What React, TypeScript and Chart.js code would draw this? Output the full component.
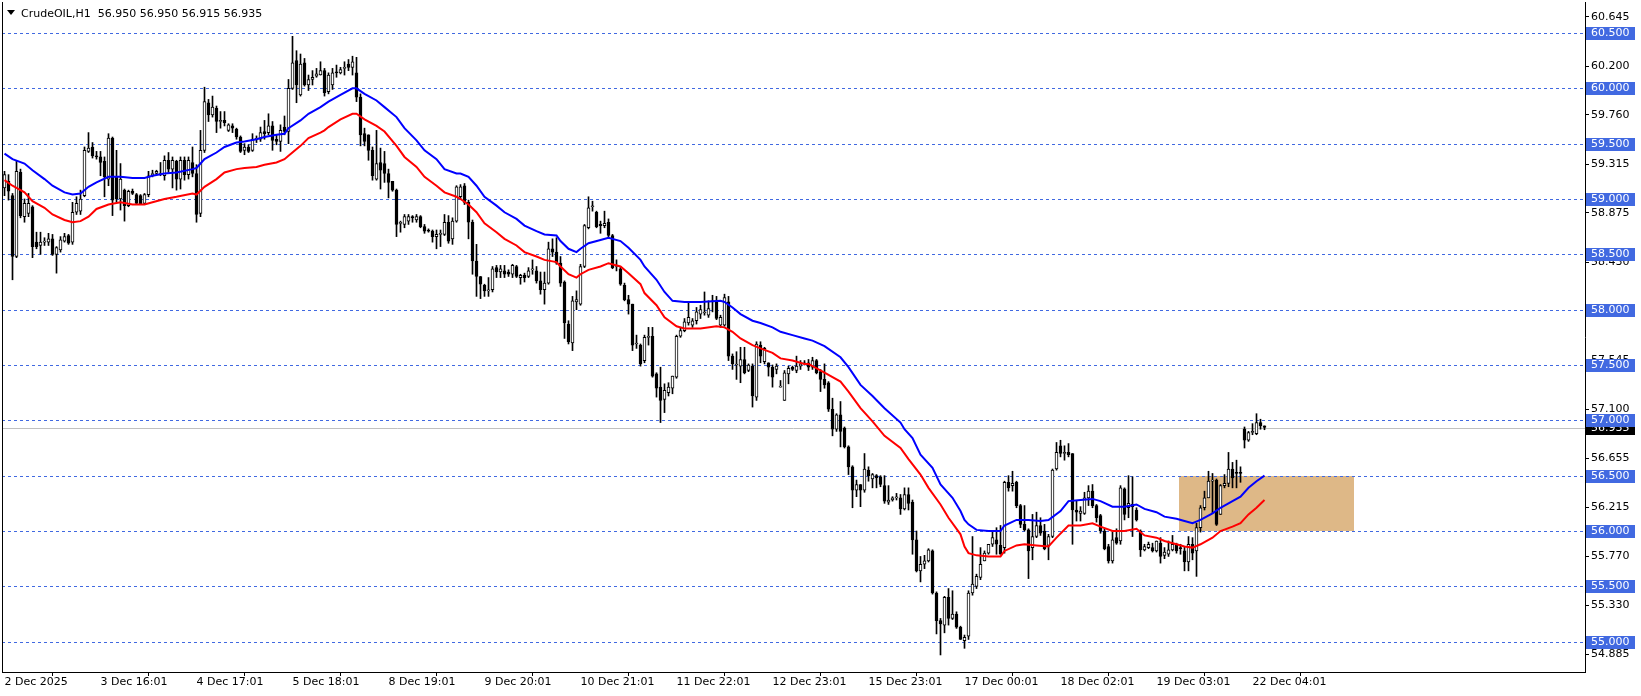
import React, { useEffect, useRef } from "react";
import { Chart, registerables } from "chart.js";
Chart.register(...registerables);

const openP = [
59.10,59.16,59.03,58.48,59.24,58.84,58.87,58.93,58.61,58.58,
58.61,58.61,58.64,58.50,58.54,58.62,58.67,58.61,58.88,58.89,
59.03,59.43,59.47,59.39,59.38,59.34,59.18,59.55,59.20,59.00,
59.08,58.94,59.07,59.04,59.03,58.96,59.04,59.22,59.23,59.22,
59.21,59.35,59.27,59.34,59.18,59.35,59.22,59.33,59.23,58.87,
59.44,59.87,59.76,59.82,59.70,59.71,59.62,59.66,59.63,59.56,
59.44,59.47,59.44,59.54,59.54,59.61,59.60,59.66,59.54,59.52,
59.65,59.61,60.00,60.25,59.94,60.23,60.03,60.08,60.11,60.12,
60.16,59.97,60.03,60.15,60.14,60.18,60.22,60.19,60.14,59.92,
59.59,59.58,59.44,59.18,59.33,59.32,59.23,59.16,59.08,58.78,
58.77,58.80,58.84,58.81,58.84,58.75,58.72,58.71,58.66,58.68,
58.68,58.79,58.64,58.80,59.02,59.12,58.97,58.79,58.44,58.30,
58.22,58.17,58.18,58.38,58.34,58.35,58.34,58.32,58.39,58.29,
58.31,58.30,58.36,58.35,58.26,58.18,58.24,58.55,58.52,58.42,
58.25,57.87,57.70,58.07,58.05,58.39,58.74,58.93,58.88,58.77,
58.76,58.79,58.67,58.39,58.37,58.22,58.09,58.05,57.69,57.68,
57.54,57.75,57.76,57.42,57.30,57.19,57.25,57.29,57.39,57.76,
57.81,57.88,57.86,57.90,57.96,57.97,57.95,58.08,58.07,57.86,
57.86,58.07,57.58,57.50,57.49,57.55,57.45,57.49,57.21,57.68,
57.53,57.52,57.48,57.46,57.30,57.18,57.42,57.48,57.45,57.49,
57.52,57.52,57.48,57.54,57.44,57.37,57.34,57.10,56.92,57.05,
56.93,56.76,56.58,56.37,56.42,56.37,56.55,56.47,56.50,56.49,
56.41,56.26,56.28,56.30,56.30,56.20,56.33,56.26,55.92,55.64,
55.70,55.73,55.82,55.44,55.19,55.15,55.40,55.21,55.25,55.13,
55.01,55.05,55.44,55.50,55.58,55.73,55.80,55.88,55.92,55.87,
55.85,56.44,56.41,56.44,56.23,56.06,56.01,55.85,55.95,56.05,
56.00,55.87,55.95,56.56,56.77,56.70,56.71,56.70,56.19,56.16,
56.16,56.30,56.36,56.23,56.14,56.00,55.86,55.73,55.94,55.91,
56.38,56.21,56.24,56.19,56.00,55.83,55.85,55.85,55.82,55.89,
55.78,55.79,55.83,55.88,55.85,55.82,55.72,55.88,55.82,56.03,
56.21,56.30,56.45,56.46,56.15,56.41,56.43,56.56,56.53,56.53,
56.92,56.82,56.89,56.88,56.98,56.950
];
const highP = [
59.25,59.22,59.05,59.34,59.27,59.00,59.05,58.94,58.70,58.70,
58.65,58.69,58.68,58.57,58.66,58.69,58.68,58.97,59.02,59.08,
59.47,59.60,59.51,59.43,59.43,59.38,59.59,59.56,59.44,59.32,
59.09,59.08,59.09,59.05,59.04,59.05,59.25,59.26,59.26,59.33,
59.39,59.42,59.38,59.35,59.38,59.38,59.38,59.47,59.31,59.62,
60.01,59.90,59.93,59.84,59.79,59.79,59.68,59.68,59.64,59.57,
59.50,59.49,59.59,59.57,59.65,59.71,59.77,59.70,59.58,59.67,
59.75,60.08,60.47,60.34,60.31,60.27,60.12,60.16,60.18,60.24,
60.18,60.14,60.18,60.21,60.19,60.24,60.26,60.29,60.28,59.95,
59.64,59.58,59.47,59.62,59.46,59.43,59.27,59.16,59.09,58.80,
58.86,58.86,58.85,58.86,58.85,58.77,58.73,58.72,58.72,58.72,
58.86,58.85,58.83,59.12,59.13,59.14,58.99,58.81,58.59,58.30,
58.23,58.29,58.39,58.40,58.40,58.40,58.36,58.41,58.40,58.32,
58.33,58.38,58.45,58.39,58.34,58.34,58.61,58.64,58.65,58.48,
58.26,57.90,58.12,58.17,58.41,58.77,59.02,58.98,58.89,58.80,
58.89,58.82,58.68,58.45,58.39,58.24,58.13,58.05,57.77,57.69,
57.77,57.84,57.84,57.43,57.48,57.33,57.34,57.40,57.77,57.84,
57.92,58.07,57.92,58.02,58.04,58.16,58.08,58.13,58.12,57.95,
58.14,58.12,57.60,57.62,57.66,57.66,57.51,57.51,57.71,57.71,
57.66,57.52,57.50,57.51,57.36,57.45,57.49,57.49,57.58,57.54,
57.54,57.55,57.57,57.55,57.46,57.51,57.35,57.20,57.06,57.17,
56.94,56.77,56.59,56.46,56.42,56.70,56.58,56.52,56.51,56.50,
56.50,56.41,56.31,56.34,56.33,56.39,56.39,56.28,56.00,55.77,
55.78,55.84,55.83,55.45,55.21,55.41,55.48,55.46,55.27,55.14,
55.06,55.46,55.95,55.61,55.85,55.82,55.88,56.00,56.03,56.05,
56.45,56.50,56.54,56.45,56.24,56.23,56.02,56.15,56.17,56.12,
56.06,55.97,56.56,56.80,56.82,56.77,56.79,56.70,56.27,56.22,
56.35,56.41,56.42,56.24,56.15,56.02,55.88,56.00,56.02,56.41,
56.39,56.50,56.49,56.21,56.01,55.88,55.90,55.89,55.91,55.94,
55.85,55.91,55.96,55.89,55.88,55.86,55.95,55.94,56.07,56.23,
56.36,56.54,56.52,56.47,56.42,56.51,56.71,56.62,56.64,56.58,
56.94,56.90,56.97,57.06,57.01,56.950
];
const lowP = [
59.03,58.99,58.27,58.47,58.83,58.79,58.84,58.47,58.55,58.50,
58.58,58.58,58.49,58.33,58.52,58.61,58.59,58.59,58.86,58.86,
59.02,59.42,59.37,59.36,59.21,59.02,59.12,58.85,58.97,58.90,
58.80,58.93,59.04,58.95,58.95,58.95,59.02,59.20,59.22,59.21,
59.17,59.24,59.10,59.08,59.09,59.17,59.18,59.20,58.79,58.84,
59.42,59.70,59.74,59.60,59.64,59.66,59.61,59.60,59.54,59.42,
59.40,59.42,59.43,59.51,59.52,59.54,59.58,59.44,59.49,59.43,
59.58,59.50,59.99,59.87,59.93,60.02,59.98,60.03,60.10,60.12,
59.93,59.95,59.99,60.10,60.13,60.12,60.16,60.12,59.88,59.48,
59.48,59.35,59.17,59.17,59.09,59.15,59.01,59.07,58.66,58.70,
58.74,58.77,58.79,58.79,58.74,58.69,58.70,58.61,58.55,58.57,
58.67,58.60,58.59,58.79,59.00,58.95,58.64,58.32,58.12,58.10,
58.12,58.12,58.16,58.29,58.29,58.29,58.30,58.29,58.29,58.23,
58.25,58.29,58.32,58.24,58.14,58.05,58.23,58.48,58.41,58.21,
57.74,57.69,57.63,58.00,58.04,58.38,58.73,58.89,58.74,58.69,
58.74,58.65,58.37,58.35,58.22,58.08,57.96,57.63,57.65,57.49,
57.52,57.68,57.39,57.21,56.98,57.07,57.22,57.24,57.38,57.75,
57.80,57.86,57.84,57.87,57.92,57.95,57.93,57.98,57.91,57.84,
57.85,57.54,57.46,57.37,57.34,57.42,57.44,57.12,57.18,57.52,
57.51,57.40,57.30,57.42,57.30,57.18,57.33,57.45,57.43,57.46,
57.50,57.45,57.46,57.42,57.26,57.29,57.08,56.86,56.90,56.76,
56.75,56.51,56.21,56.31,56.22,56.35,56.45,56.39,56.39,56.40,
56.25,56.24,56.27,56.28,56.15,56.19,56.19,55.79,55.63,55.54,
55.66,55.72,55.43,55.07,54.88,55.08,55.15,55.20,55.12,55.02,
54.94,55.02,55.42,55.48,55.56,55.73,55.79,55.86,55.79,55.79,
55.80,56.36,56.36,56.21,56.03,56.00,55.57,55.74,55.94,55.96,
55.83,55.74,55.94,56.55,56.67,56.64,56.67,55.88,56.09,56.09,
56.15,56.23,56.21,56.08,55.98,55.83,55.71,55.71,55.88,55.88,
56.10,56.12,55.95,56.09,55.77,55.82,55.84,55.81,55.81,55.71,
55.75,55.77,55.82,55.80,55.79,55.64,55.64,55.74,55.59,55.99,
56.19,56.30,56.16,56.05,56.15,56.39,56.40,56.39,56.39,56.44,
56.75,56.81,56.87,56.87,56.92,56.915
];
const closeP = [
59.22,59.07,58.48,59.25,58.85,58.96,58.96,58.57,58.57,58.61,
58.62,58.64,58.50,58.56,58.63,58.66,58.60,58.88,58.96,59.00,
59.44,59.46,59.39,59.38,59.33,59.20,59.55,58.99,59.00,59.18,
58.94,59.07,59.05,58.96,58.95,59.04,59.21,59.23,59.25,59.22,
59.35,59.27,59.35,59.18,59.35,59.22,59.35,59.23,58.86,59.44,
59.88,59.76,59.83,59.70,59.71,59.69,59.67,59.64,59.56,59.43,
59.47,59.43,59.54,59.54,59.60,59.59,59.66,59.53,59.52,59.62,
59.61,60.00,60.23,60.03,60.22,60.03,60.08,60.10,60.13,60.16,
59.96,60.12,60.14,60.14,60.17,60.19,60.19,60.24,59.92,59.58,
59.52,59.44,59.21,59.32,59.26,59.23,59.15,59.08,58.77,58.78,
58.84,58.84,58.83,58.84,58.75,58.71,58.71,58.66,58.68,58.69,
58.79,58.62,58.80,59.11,59.11,58.97,58.79,58.44,58.30,58.23,
58.17,58.18,58.37,58.34,58.37,58.32,58.32,58.40,58.30,58.31,
58.29,58.35,58.36,58.26,58.18,58.24,58.55,58.52,58.42,58.24,
57.88,57.71,58.08,58.09,58.39,58.76,58.92,58.93,58.75,58.76,
58.78,58.67,58.38,58.39,58.23,58.09,58.05,57.68,57.69,57.51,
57.75,57.75,57.40,57.29,57.18,57.27,57.30,57.40,57.76,57.81,
57.89,57.93,57.90,57.98,58.00,57.97,58.01,58.07,57.92,57.93,
58.11,57.58,57.51,57.50,57.55,57.43,57.50,57.22,57.69,57.58,
57.65,57.48,57.39,57.49,57.30,57.43,57.47,57.46,57.49,57.51,
57.51,57.48,57.54,57.43,57.37,57.32,57.10,56.92,57.05,56.90,
56.76,56.58,56.37,56.42,56.37,56.56,56.50,56.51,56.48,56.42,
56.27,56.28,56.30,56.30,56.20,56.33,56.25,55.92,55.64,55.70,
55.73,55.83,55.44,55.19,55.16,55.40,55.21,55.25,55.13,55.02,
55.04,55.44,55.52,55.59,55.70,55.80,55.88,55.94,55.88,55.79,
56.44,56.39,56.43,56.23,56.06,56.01,55.82,55.95,56.05,55.98,
55.84,55.95,56.55,56.71,56.70,56.71,56.69,56.19,56.17,56.18,
56.30,56.36,56.23,56.12,56.00,55.84,55.73,55.92,55.89,56.39,
56.15,56.25,56.22,56.10,55.83,55.86,55.88,55.82,55.91,55.77,
55.81,55.83,55.88,55.82,55.84,55.72,55.88,55.80,56.03,56.21,
56.30,56.45,56.45,56.06,56.41,56.43,56.56,56.48,56.52,56.52,
56.82,56.89,56.90,56.98,56.95,56.935
];

const blueIdx = [0,2,5,7,10,12,15,17,19,21,23,26,29,32,35,37,40,43,47,48,50,53,55,58,60,63,65,68,70,71,74,76,79,81,84,87,88,90,93,95,98,100,103,105,108,110,113,114,116,118,120,123,125,128,130,133,135,138,139,141,143,144,146,149,151,154,156,159,160,163,165,167,170,174,179,180,182,184,187,189,192,194,197,200,202,205,209,211,214,217,220,224,225,227,229,232,234,237,239,240,241,243,246,249,250,253,256,259,261,264,266,269,272,274,277,280,283,285,288,290,293,295,297,299,302,304,307,309,311,313,315];
const blueVal = [59.41,59.36,59.32,59.26,59.18,59.12,59.06,59.04,59.05,59.11,59.15,59.20,59.20,59.19,59.19,59.21,59.23,59.24,59.27,59.28,59.36,59.42,59.47,59.51,59.52,59.54,59.56,59.58,59.59,59.64,59.71,59.77,59.83,59.88,59.94,60.00,60.00,59.95,59.89,59.83,59.74,59.64,59.53,59.44,59.36,59.27,59.23,59.23,59.20,59.12,59.02,58.94,58.88,58.82,58.76,58.71,58.68,58.67,58.62,58.55,58.52,58.55,58.60,58.63,58.65,58.62,58.56,58.45,58.39,58.27,58.16,58.08,58.07,58.07,58.08,58.07,58.02,57.96,57.90,57.88,57.84,57.80,57.77,57.74,57.72,57.67,57.57,57.48,57.32,57.22,57.11,56.98,56.92,56.84,56.69,56.57,56.42,56.30,56.18,56.10,56.06,56.01,56.00,56.00,56.05,56.10,56.10,56.09,56.10,56.18,56.27,56.28,56.29,56.27,56.22,56.22,56.24,56.20,56.17,56.13,56.11,56.09,56.07,56.10,56.16,56.21,56.27,56.31,56.39,56.45,56.50];

const redIdx = [0,2,5,7,10,12,15,17,19,21,23,26,29,32,35,37,40,43,47,48,50,53,55,58,60,63,65,68,70,71,74,76,79,80,81,84,87,88,90,93,95,98,100,103,105,108,110,113,114,116,118,120,123,125,128,130,133,135,138,139,141,143,144,146,149,151,154,156,159,160,163,165,168,170,174,178,180,182,184,187,189,192,194,197,200,201,205,209,211,214,217,220,224,226,229,231,234,236,239,240,241,243,246,249,250,253,255,258,261,263,266,269,272,274,277,280,283,285,288,290,293,295,297,299,302,304,307,309,311,313,315];
const redVal = [59.17,59.12,59.06,58.98,58.92,58.86,58.81,58.79,58.80,58.84,58.91,58.95,58.97,58.95,58.95,58.97,59.00,59.02,59.05,59.04,59.11,59.18,59.24,59.27,59.28,59.29,59.31,59.33,59.36,59.39,59.48,59.55,59.60,59.62,59.65,59.72,59.77,59.77,59.72,59.66,59.61,59.48,59.38,59.29,59.20,59.12,59.06,59.02,59.00,58.95,58.88,58.78,58.70,58.64,58.58,58.52,58.48,58.45,58.43,58.39,58.32,58.29,58.32,58.36,58.39,58.42,58.39,58.33,58.23,58.15,58.04,57.93,57.85,57.83,57.83,57.85,57.84,57.80,57.74,57.68,57.65,57.61,57.56,57.54,57.51,57.51,57.43,57.35,57.26,57.11,56.99,56.86,56.75,56.65,56.51,56.39,56.24,56.12,55.97,55.86,55.80,55.78,55.77,55.77,55.82,55.87,55.88,55.87,55.86,55.94,56.05,56.05,56.07,56.04,56.00,56.00,56.02,55.96,55.94,55.91,55.88,55.86,55.85,55.88,55.94,56.00,56.04,56.07,56.15,56.21,56.28];

const timeLabels = ["2 Dec 2025","3 Dec 16:01","4 Dec 17:01","5 Dec 18:01","8 Dec 19:01","9 Dec 20:01","10 Dec 21:01","11 Dec 22:01","12 Dec 23:01","15 Dec 23:01","17 Dec 00:01","18 Dec 02:01","19 Dec 03:01","22 Dec 04:01"];
const timeLabelBars = [0,24,48,72,96,120,144,168,192,216,240,264,288,312];
const priceTicks = [60.645,60.2,59.76,59.315,58.875,58.43,57.99,57.545,57.1,56.655,56.215,55.77,55.33,54.885];
const levelLines = [60.5,60,59.5,59,58.5,58,57.5,57,56.5,56,55.5,55];
const lastPrice = 56.935;
const headerText = "CrudeOIL,H1  56.950 56.950 56.915 56.935";
const zoneBars = [293.6, 337.4];
const zonePrices = [56.0, 56.5];

const FONT = "DejaVu Sans";

export default function App() {
  const ref = useRef<HTMLCanvasElement | null>(null);
  useEffect(() => {
    document.body.style.margin = "0";
    const canvas = ref.current;
    if (!canvas) return;
    const bodyData = openP.map((o, i) => ({ x: i, y: [o, closeP[i]] }));
    const wickData = highP.map((h, i) => ({ x: i, y: [lowP[i], h] }));
    const bodyColors = openP.map((o, i) => (closeP[i] >= o ? "#ffffff" : "#000000"));
    const blueData = blueIdx.map((x, i) => ({ x, y: blueVal[i] }));
    const redData = redIdx.map((x, i) => ({ x, y: redVal[i] }));

    const overlay = {
      id: "overlay",
      beforeDatasetsDraw(chart: any) {
        const { ctx, chartArea: ca, scales } = chart;
        const xs = scales.x, ys = scales.y;
        ctx.save();
        ctx.beginPath();
        ctx.rect(ca.left, ca.top, ca.right - ca.left, ca.bottom - ca.top);
        ctx.clip();
        const zx0 = Math.round(xs.getPixelForValue(zoneBars[0]));
        const zx1 = Math.round(xs.getPixelForValue(zoneBars[1]));
        const zy0 = Math.round(ys.getPixelForValue(zonePrices[1]));
        const zy1 = Math.round(ys.getPixelForValue(zonePrices[0]));
        ctx.fillStyle = "#DEB887";
        ctx.fillRect(zx0, zy0, zx1 - zx0, zy1 - zy0);
        const ly = Math.round(ys.getPixelForValue(lastPrice)) + 0.5;
        ctx.strokeStyle = "#C0C0C0";
        ctx.lineWidth = 1;
        ctx.beginPath();
        ctx.moveTo(ca.left, ly);
        ctx.lineTo(ca.right, ly);
        ctx.stroke();
        ctx.strokeStyle = "#4169E1";
        ctx.setLineDash([3, 3]);
        for (const p of levelLines) {
          const y = Math.round(ys.getPixelForValue(p)) + 0.5;
          ctx.beginPath();
          ctx.moveTo(ca.left, y);
          ctx.lineTo(ca.right, y);
          ctx.stroke();
        }
        ctx.restore();
      },
      afterDraw(chart: any) {
        const { ctx, chartArea: ca, scales } = chart;
        const ys = scales.y;
        ctx.save();
        ctx.strokeStyle = "#000";
        ctx.lineWidth = 1;
        ctx.beginPath();
        ctx.moveTo(ca.left + 0.5, ca.top);
        ctx.lineTo(ca.left + 0.5, ca.bottom);
        ctx.stroke();
        ctx.font = "11px '" + FONT + "'";
        ctx.textBaseline = "middle";
        ctx.textAlign = "left";
        const bx = ca.right + 1;
        const bw = 49;
        const lp = Math.round(ys.getPixelForValue(lastPrice));
        ctx.fillStyle = "#000";
        ctx.fillRect(bx, lp - 6, bw, 13);
        ctx.fillStyle = "#fff";
        ctx.fillText(lastPrice.toFixed(3), ca.right + 6, lp + 0.5);
        for (const p of levelLines) {
          const y = Math.round(ys.getPixelForValue(p));
          ctx.fillStyle = "#4169E1";
          ctx.fillRect(bx, y - 6, bw, 13);
          ctx.fillStyle = "#fff";
          ctx.fillText(p.toFixed(3), ca.right + 6, y + 0.5);
        }
        ctx.fillStyle = "#000";
        ctx.beginPath();
        ctx.moveTo(7, 10);
        ctx.lineTo(15, 10);
        ctx.lineTo(11, 15);
        ctx.closePath();
        ctx.fill();
        ctx.textBaseline = "alphabetic";
        ctx.fillText(headerText, 21, 17);
        ctx.restore();
      },
    };

    const chart = new Chart(canvas, {
      type: "bar",
      data: {
        datasets: [
          { type: "line", data: blueData, borderColor: "#0000FF", borderWidth: 2, pointRadius: 0, tension: 0, order: 1 } as any,
          { type: "line", data: redData, borderColor: "#FF0000", borderWidth: 2, pointRadius: 0, tension: 0, order: 1 } as any,
          {
            type: "bar",
            data: bodyData as any,
            backgroundColor: bodyColors,
            borderColor: "#000000",
            borderWidth: 1,
            borderSkipped: false,
            barThickness: 3,
            minBarLength: 1,
            grouped: false,
            order: 2,
          } as any,
          {
            type: "bar",
            data: wickData as any,
            backgroundColor: "#000000",
            borderWidth: 0,
            barThickness: 1,
            grouped: false,
            order: 3,
          } as any,
        ],
      },
      options: {
        responsive: false,
        animation: false,
        events: [],
        layout: { padding: { left: 2, top: 2, right: 0, bottom: 0 } },
        plugins: { legend: { display: false }, tooltip: { enabled: false } },
        scales: {
          x: {
            type: "linear",
            min: -0.625,
            max: 395.125,
            offset: false,
            position: "bottom",
            grid: { drawOnChartArea: false, drawTicks: true, tickLength: 4, color: "#000" },
            border: { display: true, color: "#000" },
            ticks: {
              autoSkip: false,
              maxRotation: 0,
              align: "start",
              padding: 0,
              color: "#000",
              font: { family: FONT, size: 11 },
              callback: (v: any) => {
                const k = timeLabelBars.indexOf(Number(v));
                return k >= 0 ? timeLabels[k] : "";
              },
            },
            afterBuildTicks: (s: any) => {
              s.ticks = timeLabelBars.map((v) => ({ value: v }));
            },
            afterFit: (s: any) => {
              s.height = 24;
              s.paddingLeft = 0;
              s.paddingRight = 0;
              s.paddingTop = 0;
              s.paddingBottom = 0;
            },
          } as any,
          y: {
            type: "linear",
            position: "right",
            min: 54.726,
            max: 60.78,
            grid: { drawOnChartArea: false, drawTicks: true, tickLength: 4, color: "#000" },
            border: { display: true, color: "#000" },
            ticks: {
              autoSkip: false,
              padding: 2,
              color: "#000",
              font: { family: FONT, size: 11 },
              callback: (v: any) => Number(v).toFixed(3),
            },
            afterBuildTicks: (s: any) => {
              s.ticks = priceTicks.map((v) => ({ value: v }));
            },
            afterFit: (s: any) => {
              s.width = 56;
              s.paddingTop = 0;
              s.paddingBottom = 0;
              s.paddingLeft = 0;
              s.paddingRight = 0;
            },
          } as any,
        },
      },
      plugins: [overlay],
    });
    return () => chart.destroy();
  }, []);
  return (
    <div style={{ width: 1641, height: 696, background: "#fff" }}>
      <canvas ref={ref} width={1641} height={696} style={{ display: "block" }} />
    </div>
  );
}
